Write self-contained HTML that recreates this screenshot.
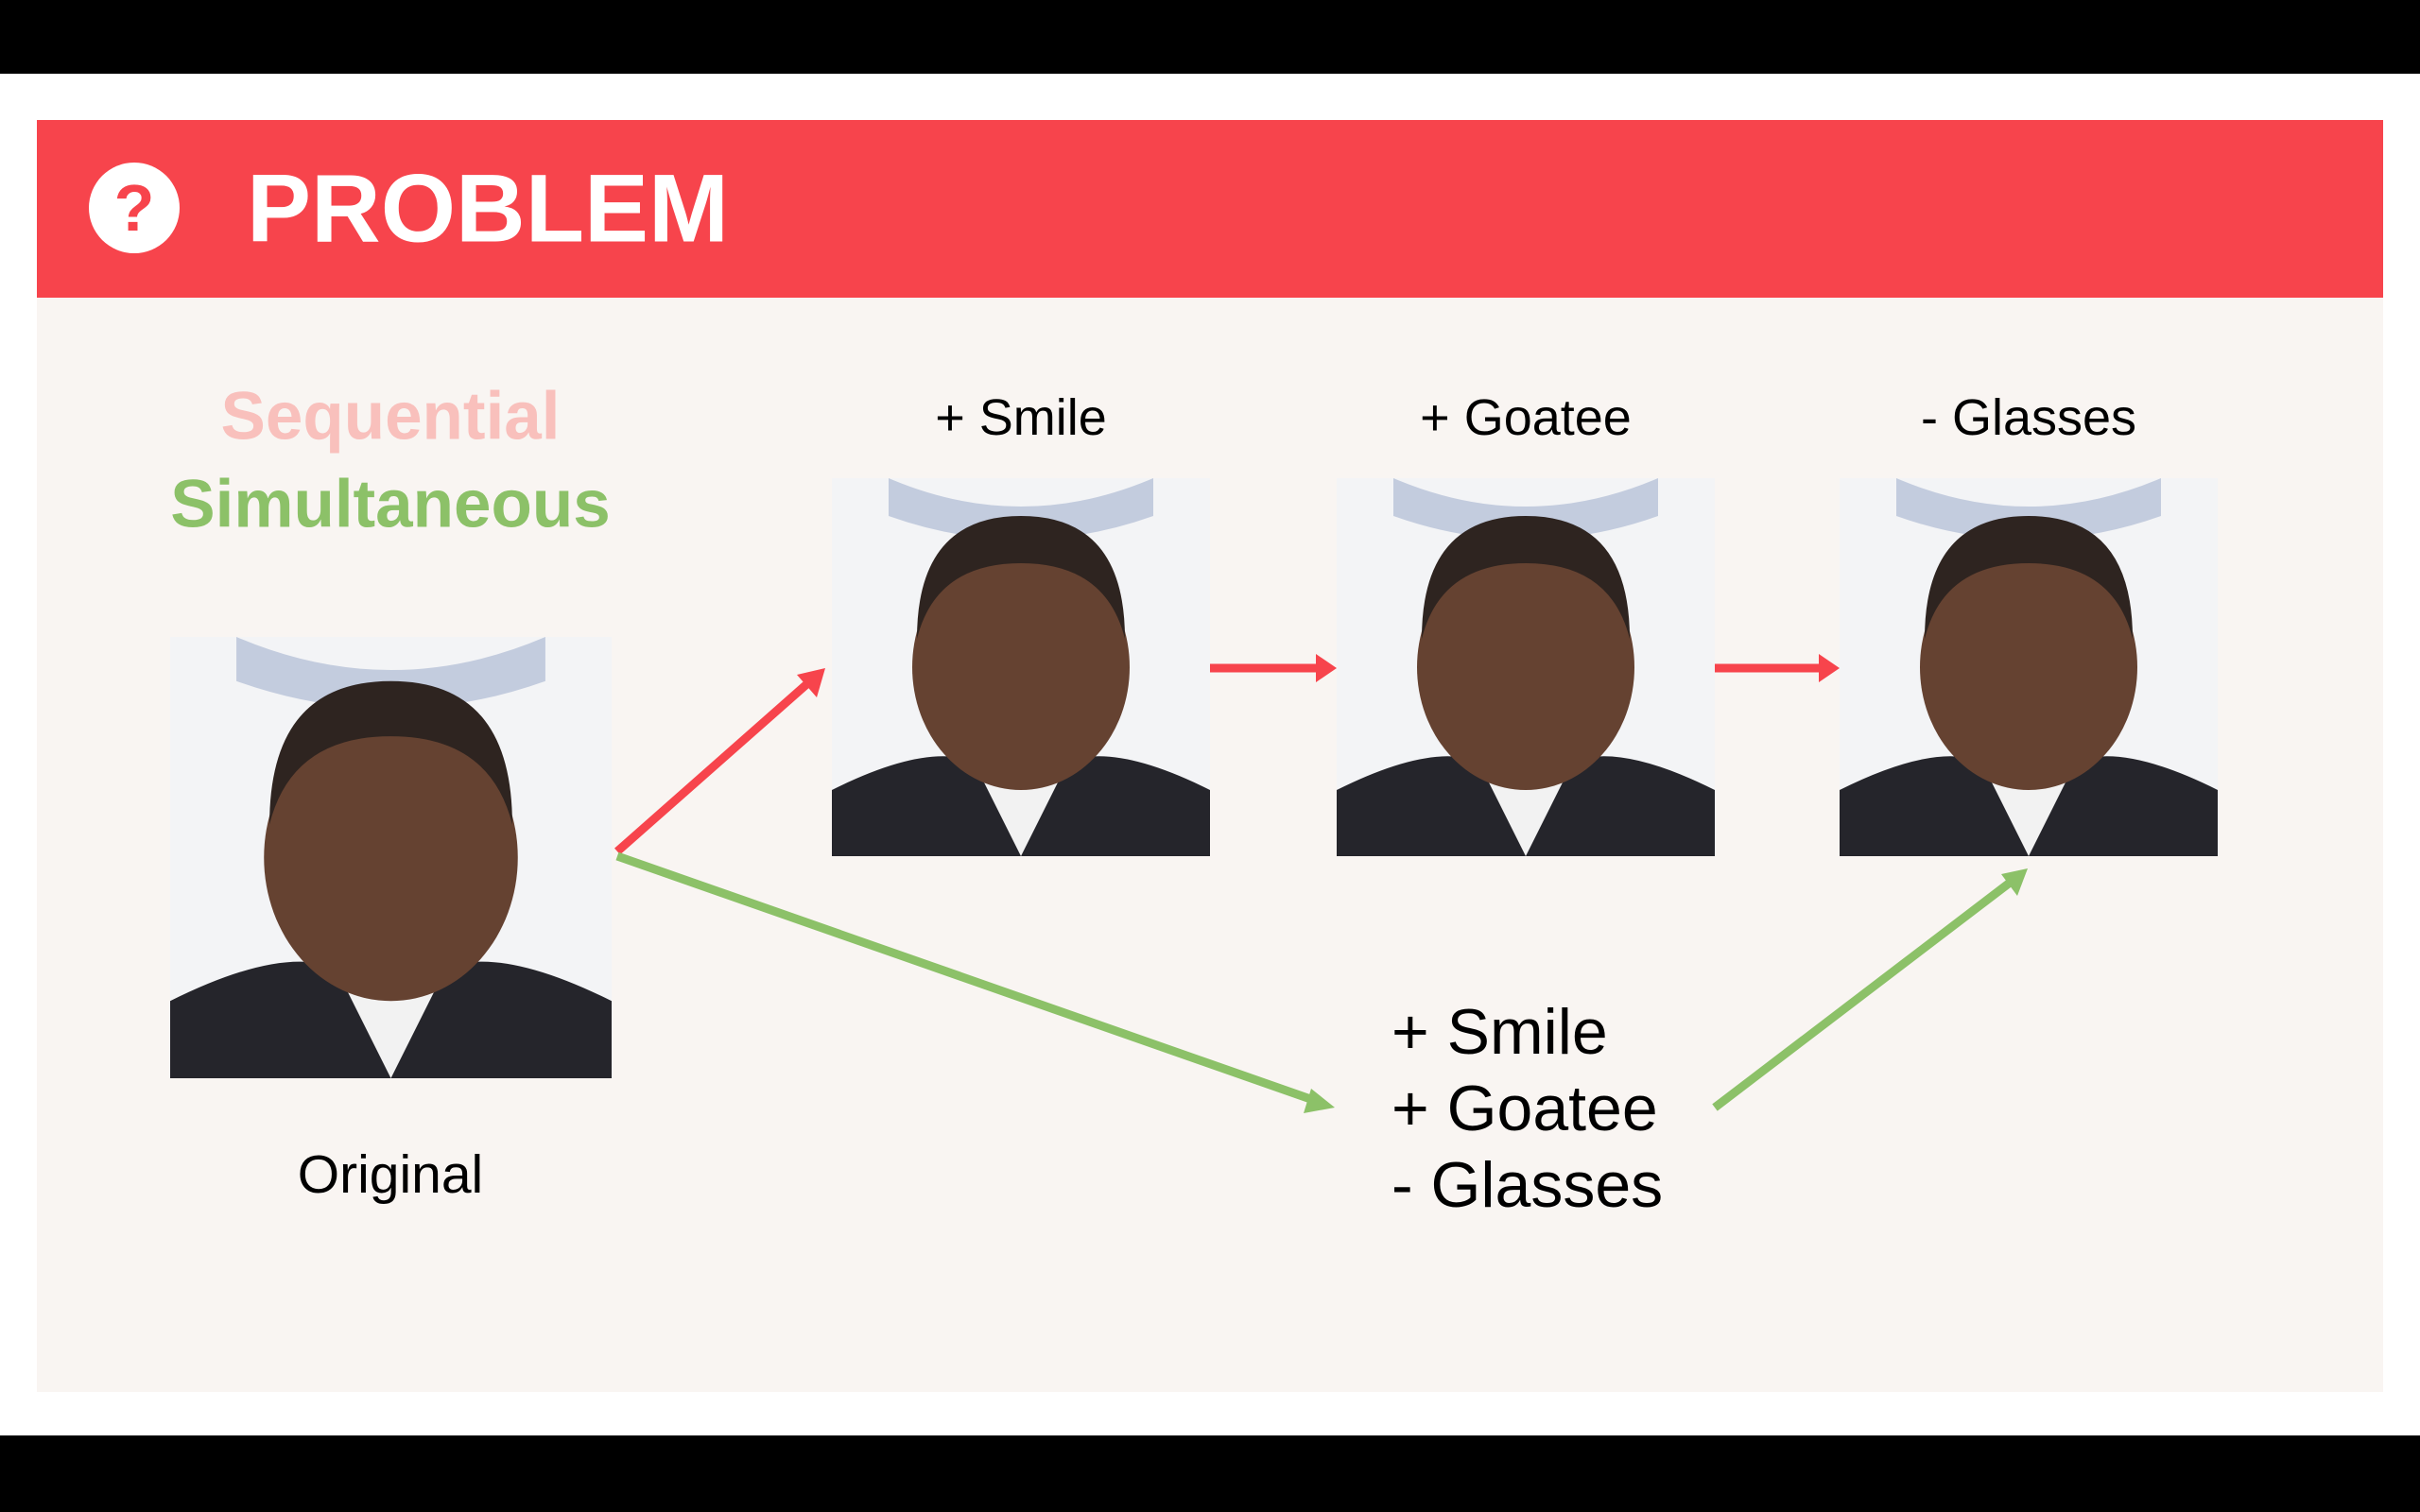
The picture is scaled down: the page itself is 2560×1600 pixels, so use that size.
<!DOCTYPE html>
<html><head><meta charset="utf-8"><style>
html,body{margin:0;padding:0}
body{width:2560px;height:1600px;background:#000;position:relative;overflow:hidden;font-family:"Liberation Sans",sans-serif}
.white{position:absolute;left:0;top:78px;width:2560px;height:1441px;background:#fff}
.panel{position:absolute;left:39px;top:127px;width:2482px;height:1346px;background:#f9f5f2}
.hdr{position:absolute;left:39px;top:127px;width:2482px;height:188px;background:#f7444c}
.t{position:absolute;white-space:nowrap;transform:translate(-50%,-50%)}
</style></head><body>
<div class="white"></div>
<div class="panel"></div>
<div class="hdr"></div>
<svg style="position:absolute;left:0;top:0" width="2560" height="1600">
<circle cx="142" cy="220" r="48" fill="#fff"/>
<text x="142" y="244" text-anchor="middle" font-family="Liberation Sans" font-weight="bold" font-size="70" fill="#f7444c">?</text>
<defs>
<g id="face">
<rect width="400" height="400" fill="#f3f4f6"/>
<path d="M60 0 Q200 60 340 0 L340 40 Q200 90 60 40Z" fill="#8a9bc0" opacity=".45"/>
<path d="M0 330 Q100 280 150 300 L250 300 Q300 280 400 330 L400 400 L0 400Z" fill="#25252b"/>
<path d="M150 300 L200 400 L250 300Z" fill="#f2f2f2"/>
<ellipse cx="200" cy="200" rx="115" ry="130" fill="#654231"/>
<path d="M90 170 Q90 40 200 40 Q310 40 310 170 Q290 90 200 90 Q110 90 90 170Z" fill="#2e2420"/>
</g>
</defs>
<use href="#face" transform="translate(180,674) scale(1.1675)"/>
<use href="#face" transform="translate(880,506)"/>
<use href="#face" transform="translate(1414,506)"/>
<use href="#face" transform="translate(1946,506)"/>
<g stroke-width="9" fill="none">
<line x1="653" y1="901" x2="858" y2="720" stroke="#f7444c"/>
<line x1="1280" y1="707" x2="1395" y2="707" stroke="#f7444c"/>
<line x1="1814" y1="707" x2="1928" y2="707" stroke="#f7444c"/>
<line x1="653" y1="906" x2="1392" y2="1165" stroke="#8cc168"/>
<line x1="1814" y1="1172" x2="2130" y2="931" stroke="#8cc168"/>
</g>
<polygon points="873,707 864,738 843,714" fill="#f7444c"/>
<polygon points="1414,707 1392,692 1392,722" fill="#f7444c"/>
<polygon points="1946,707 1924,692 1924,722" fill="#f7444c"/>
<polygon points="1412,1172 1387,1152 1379,1178" fill="#8cc168"/>
<polygon points="2145,919 2134,948 2117,925" fill="#8cc168"/>
</svg>
<div class="t" style="left:261px;top:221px;transform:translateY(-50%);color:#fff;font-weight:bold;font-size:102px">PROBLEM</div>
<div class="t" style="left:413px;top:441px;color:#f9c0bc;font-weight:bold;font-size:71px">Sequential</div>
<div class="t" style="left:413px;top:534px;color:#8cc168;font-weight:bold;font-size:71px">Simultaneous</div>
<div class="t" style="left:1080px;top:442px;font-size:54px">+ Smile</div>
<div class="t" style="left:1614px;top:442px;font-size:54px">+ Goatee</div>
<div class="t" style="left:2146px;top:442px;font-size:54px">- Glasses</div>
<div class="t" style="left:413px;top:1243px;font-size:57px">Original</div>
<div style="position:absolute;left:1472px;top:1052px;font-size:68px;line-height:81px">+ Smile<br>+ Goatee<br>- Glasses</div>
</body></html>
